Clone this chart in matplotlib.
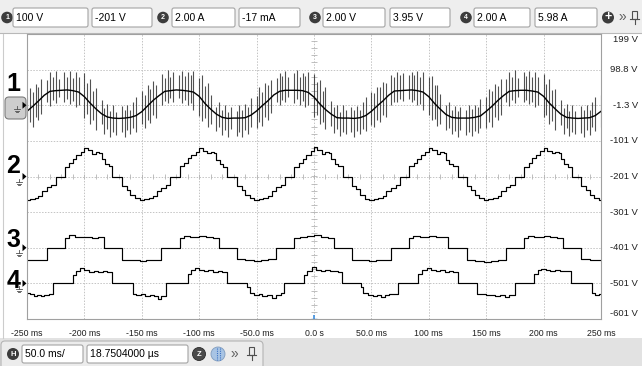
import numpy as np
import matplotlib.pyplot as plt
from matplotlib.patches import FancyBboxPatch, Circle, Polygon, Rectangle

plt.rcParams['font.family'] = ['Liberation Sans', 'DejaVu Sans']

# screen layout in pixels
W, H = 642, 366
PLOT_L, PLOT_R, PLOT_T, PLOT_B = 27, 601, 34, 319
DIV_PX = (PLOT_B - PLOT_T) / 8

# horizontal axis: 50 ms/div, 10 divisions
time_ticks = [-250, -200, -150, -100, -50, 0, 50, 100, 150, 200, 250]
time_labels = ["-250 ms", "-200 ms", "-150 ms", "-100 ms", "-50.0 ms", "0.0 s",
               "50.0 ms", "100 ms", "150 ms", "200 ms", "250 ms"]
volt_labels = ["199 V", "98.8 V", "-1.3 V", "-101 V", "-201 V", "-301 V",
               "-401 V", "-501 V", "-601 V"]

# channel settings: (range box, offset box)
ch_boxes = [("100 V", "-201 V"), ("2.00 A", "-17 mA"), ("2.00 V", "3.95 V"), ("2.00 A", "5.98 A")]
ch_scale = [100.0, 2.0, 2.0, 2.0]     # units per division
ch_zero = [0.0, -2.0, -4.0, -5.0]     # marker position in divisions

# channel 1 (V): centre line on a 5 ms grid
ch1_mid = [
    -17, -3, 12, 28, 39, 41, 42, 43, 41, 37, 24, 6, -10, -24, -33, -36, -37, -36, -34, -29,
    -18, -2, 14, 27, 39, 41, 43, 42, 40, 37, 25, 5, -11, -25, -34, -37, -36, -36, -35, -28,
    -16, -1, 13, 29, 39, 42, 42, 42, 41, 36, 23, 4, -12, -25, -35, -36, -36, -37, -35, -29,
    -17, -2, 12, 28, 40, 41, 42, 43, 41, 37, 24, 5, -11, -26, -34, -36, -36, -36, -34, -30,
    -17, -3, 13, 27, 39, 41, 42, 42, 40, 37, 25, 6, -10, -25, -34, -36, -37, -36, -35, -29,
    -17,
]
# channel 1 (V): switching spikes on a 2.5 ms grid, top and bottom of each spike
ch1_hi = [
    22, 48, 36, 60, 52, 74, None, 70, 92, 78, 96, 74, None, 92, 80, 96, 76, 94, 78, None,
    90, 62, 74, 40, 48, None, 14, -8, 4, -16, 2, -18, None, -2, -14, 0, -12, 10, 24, None,
    40, 30, 56, 46, 68, 58, None, 88, 76, 98, 80, 92, None, 84, 96, 82, 92, 84, 96, None,
    76, 84, 54, 62, 30, None, -4, 10, -14, 0, -18, -4, None, -16, 2, -12, 4, -6, 20, None,
    26, 50, 38, 62, 58, 72, None, 76, 90, 82, 96, 78, None, 90, 98, 80, 90, 82, 94, None,
    88, 64, 72, 40, 50, None, 12, -6, 2, -18, 0, -14, None, -4, -12, -2, -14, 8, 22, None,
    38, 34, 52, 50, 66, 62, None, 86, 80, 94, 84, 90, None, 86, 94, 86, 96, 80, 92, None,
    78, 82, 56, 58, 32, None, 0, 8, -12, -2, -16, -6, None, -14, 0, -10, 2, -4, 18, None,
    24, 46, 40, 60, 54, 74, None, 74, 92, 80, 98, 76, None, 92, 82, 96, 78, 94, 80, None,
    88, 60, 74, 42, 46, None, 14, -8, 4, -16, 2, -16, None, -2, -14, 0, -12, 10, 24, None,
    30,
]
ch1_lo = [
    -66, -46, -60, -32, -42, -24, None, 10, -2, 16, 6, 24, None, 8, 18, 4, 12, -4, 2, None,
    -36, -24, -54, -42, -70, None, -54, -80, -66, -88, -74, -84, None, -76, -90, -70, -82, -64, -74, None,
    -54, -64, -40, -50, -26, -36, None, 0, 12, 6, 20, 10, None, 20, 6, 16, 0, 6, -14, None,
    -30, -44, -36, -60, -52, None, -72, -62, -84, -70, -90, -68, None, -86, -74, -88, -70, -80, -62, None,
    -64, -48, -58, -34, -42, -22, None, 8, 0, 16, 8, 24, None, 6, 18, 2, 12, -6, 0, None,
    -34, -28, -52, -46, -68, None, -58, -78, -68, -86, -76, -82, None, -74, -90, -72, -80, -66, -72, None,
    -56, -62, -42, -48, -28, -34, None, 2, 10, 8, 18, 12, None, 18, 8, 14, 2, 4, -12, None,
    -28, -42, -38, -58, -54, None, -70, -64, -82, -72, -88, -70, None, -84, -76, -86, -72, -78, -64, None,
    -64, -48, -60, -34, -40, -26, None, 8, -2, 14, 6, 22, None, 10, 16, 4, 10, -4, 0, None,
    -34, -26, -52, -44, -70, None, -56, -80, -64, -86, -76, -82, None, -78, -88, -70, -84, -62, -72, None,
    -60,
]

# channel 2 (A): staircase current, level changes (ms, A)
ch2_t = [-250, -247, -243, -240, -237, -233, -229, -225,
         -217, -213, -210, -207, -203, -200, -197, -193, -190, -187, -185, -182, -179, -176,
         -167, -163, -160, -156, -152, -148, -144, -140, -137, -133, -129, -125,
         -117, -113, -110, -107, -103, -100, -97, -93, -90, -87, -85, -82, -79, -76,
         -67, -63, -60, -56, -52, -48, -44, -40, -37, -33, -29, -25,
         -17, -13, -10, -7, -3, 0, 3, 7, 10, 13, 15, 18, 21, 25,
         33, 37, 40, 44, 48, 52, 56, 60, 63, 67, 71, 75,
         83, 87, 90, 93, 97, 100, 103, 107, 110, 113, 115, 118, 121, 125,
         133, 137, 140, 144, 148, 152, 156, 160, 163, 167, 171, 175,
         183, 187, 190, 193, 197, 200, 203, 207, 210, 213, 215, 218, 221, 225,
         233, 237, 240, 244, 248, 250]
ch2_a = [-1.30, -1.24, -1.18, -1.08, -0.80, -0.60, -0.48, 0.0,
         0.56, 0.76, 1.00, 1.20, 1.40, 1.60, 1.46, 1.28, 1.36, 1.30, 0.96, 0.70, 0.58, 0.0,
         -0.52, -0.74, -1.02, -1.22, -1.30, -1.26, -1.20, -1.12, -0.80, -0.62, -0.48, 0.0,
         0.58, 0.74, 1.02, 1.18, 1.40, 1.62, 1.44, 1.30, 1.38, 1.32, 0.94, 0.72, 0.56, 0.0,
         -0.54, -0.76, -1.04, -1.20, -1.34, -1.28, -1.18, -1.10, -0.82, -0.60, -0.46, 0.0,
         0.56, 0.78, 0.98, 1.22, 1.42, 1.64, 1.46, 1.26, 1.36, 1.30, 0.96, 0.70, 0.58, 0.0,
         -0.52, -0.72, -1.04, -1.24, -1.32, -1.28, -1.20, -1.10, -0.80, -0.62, -0.46, 0.0,
         0.58, 0.76, 1.00, 1.20, 1.40, 1.60, 1.46, 1.28, 1.38, 1.30, 0.94, 0.72, 0.58, 0.0,
         -0.54, -0.74, -1.02, -1.22, -1.30, -1.26, -1.18, -1.12, -0.82, -0.60, -0.48, 0.0,
         0.56, 0.76, 1.02, 1.18, 1.42, 1.62, 1.44, 1.30, 1.36, 1.32, 0.96, 0.70, 0.56, 0.0,
         -0.52, -0.74, -1.04, -1.22, -1.30, -1.30]

# channel 3 (V): three-level voltage, level changes (ms, V)
ch3_t = [-250, -244, -238, -233,
         -217, -213, -208, -200, -193, -188, -183,
         -167, -160, -152, -146, -140, -133,
         -117, -113, -108, -100, -94, -88, -83,
         -67, -60, -52, -46, -40, -33,
         -17, -12, -6, 0, 6, 12, 17,
         33, 40, 48, 54, 60, 67,
         83, 86, 92, 100, 106, 112, 117,
         133, 140, 148, 154, 160, 167,
         183, 186, 192, 200, 206, 212, 217,
         233, 240, 246, 250]
ch3_v = [-0.66, -0.70, -0.66, 0.0,
         0.56, 0.72, 0.60, 0.62, 0.56, 0.60, 0.0,
         -0.66, -0.70, -0.76, -0.70, -0.66, 0.0,
         0.56, 0.68, 0.60, 0.64, 0.58, 0.56, 0.0,
         -0.64, -0.70, -0.74, -0.70, -0.64, 0.0,
         0.56, 0.58, 0.66, 0.72, 0.62, 0.56, 0.0,
         -0.66, -0.70, -0.76, -0.70, -0.66, 0.0,
         0.54, 0.68, 0.62, 0.66, 0.60, 0.58, 0.0,
         -0.66, -0.72, -0.78, -0.72, -0.66, 0.0,
         0.56, 0.68, 0.62, 0.68, 0.60, 0.56, 0.0,
         -0.64, -0.70, -0.68, -0.68]

# channel 4 (A): level changes (ms, A)
ch4_t = [-250, -247, -244, -241, -238, -235, -231, -227,
         -210, -207, -204, -200, -196, -192, -188, -184, -180, -176,
         -158, -155, -151, -147, -143, -139, -136, -133, -129,
         -110, -107, -104, -100, -96, -92, -88, -84, -80, -76,
         -58, -56, -52, -48, -45, -41, -37, -33, -29, -26,
         -9, -6, -2, 2, 6, 10, 14, 18, 21, 24,
         41, 43, 47, 51, 55, 58, 62, 65, 69, 73,
         91, 94, 98, 102, 106, 110, 114, 118, 121, 125,
         142, 146, 150, 154, 158, 162, 166, 170, 175,
         192, 195, 198, 202, 206, 210, 214, 218, 224,
         242, 245, 248, 250]
ch4_a = [-0.56, -0.62, -0.70, -0.64, -0.72, -0.64, -0.58, 0.0,
         0.48, 0.72, 0.84, 0.74, 0.66, 0.72, 0.62, 0.70, 0.66, 0.0,
         -0.58, -0.64, -0.60, -0.70, -0.64, -0.72, -0.88, -0.70, 0.0,
         0.50, 0.74, 0.86, 0.74, 0.70, 0.76, 0.64, 0.70, 0.66, 0.0,
         -0.20, -0.56, -0.66, -0.62, -0.72, -0.68, -0.80, -0.66, -0.56, 0.0,
         0.46, 0.72, 0.90, 0.76, 0.70, 0.76, 0.68, 0.72, 0.66, 0.0,
         -0.22, -0.56, -0.64, -0.70, -0.66, -0.76, -0.68, -0.62, -0.58, 0.0,
         0.52, 0.74, 0.84, 0.74, 0.70, 0.76, 0.66, 0.72, 0.66, 0.0,
         -0.58, -0.62, -0.66, -0.64, -0.72, -0.66, -0.76, -0.64, 0.0,
         0.50, 0.74, 0.82, 0.74, 0.72, 0.76, 0.68, 0.70, 0.0,
         -0.56, -0.64, -0.62, -0.62]

fig = plt.figure(figsize=(W / 100, H / 100), dpi=100)
fig.patch.set_facecolor("white")

# full-window layer for the toolbars and markers, in pixel units
ui = fig.add_axes([0, 0, 1, 1], zorder=0)
ui.set_xlim(0, W)
ui.set_ylim(H, 0)
ui.axis("off")

ax = fig.add_axes([PLOT_L / W, 1 - PLOT_B / H, (PLOT_R - PLOT_L) / W, (PLOT_B - PLOT_T) / H],
                  zorder=1)
ax.set_xlim(-250, 250)
ax.set_ylim(-6, 2)
ax.set_xticks(time_ticks)
ax.set_xticklabels(time_labels, fontsize=6.3, color="#202020")
ax.set_yticks(range(-6, 3))
ax.set_yticklabels([])
ax.tick_params(length=0, pad=7)
ax.grid(True, color="#c4c4c4", linestyle=(0, (1.5, 1.5)), linewidth=0.7)
for sp in ax.spines.values():
    sp.set_color("#a0a0a0")
    sp.set_linewidth(0.8)

# minor ticks along the centre cross
ax.vlines(np.arange(-250, 251, 10), -2.07, -1.93, color="#b4b4b4", lw=0.6)
ax.hlines(np.arange(-6, 2.01, 0.2), -2.2, 2.2, color="#b4b4b4", lw=0.6)
# trigger marker
ax.vlines(0, -6, -5.88, color="#3d8fe0", lw=1.2)
ax.hlines(-5.99, -2.5, 2.5, color="#3d8fe0", lw=1.0)

# channel 1
t_spk = np.arange(-250, 250.01, 2.5)
hi = np.array(ch1_hi, dtype=float) / ch_scale[0] + ch_zero[0]
lo = np.array(ch1_lo, dtype=float) / ch_scale[0] + ch_zero[0]
ok = ~np.isnan(hi)
ax.vlines(t_spk[ok], lo[ok], hi[ok], color="#262626", lw=0.8, alpha=0.8)
t_mid = np.arange(-250, 250.01, 5)
ax.plot(t_mid, np.array(ch1_mid) / ch_scale[0] + ch_zero[0], color="black", lw=1.0)

# channels 2-4
for t, v, i in [(ch2_t, ch2_a, 1), (ch3_t, ch3_v, 2), (ch4_t, ch4_a, 3)]:
    ax.plot(t, np.array(v) / ch_scale[i] + ch_zero[i], color="black", lw=0.85,
            drawstyle="steps-post")

# vertical scale labels on the right
for i, lab in enumerate(volt_labels):
    y = PLOT_T + i * DIV_PX
    va = "center"
    if i == 0:
        y, va = y + 0.5, "top"
    elif i == len(volt_labels) - 1:
        y, va = y - 1, "bottom"
    ui.text(638, y, lab, ha="right", va=va, fontsize=6.8, color="#202020")

# top toolbar
ui.add_patch(Rectangle((0, 0), W, 33, fc="#eeeeee", ec="none"))
ui.plot([0, W], [33, 33], color="#b8b8b8", lw=0.8)
badge_x = [7, 163, 315, 466]
box_x = [(13, 88, 92, 152), (172, 235, 239, 300), (323, 385, 390, 450), (474, 530, 535, 597)]
for n, (cx, (a0, a1, b0, b1), (r, o)) in enumerate(zip(badge_x, box_x, ch_boxes)):
    ui.add_patch(Circle((cx, 17.5), 5.8, fc="#3c3c3c", ec="none"))
    ui.text(cx, 17.8, str(n + 1), ha="center", va="center", fontsize=5, color="white",
            fontweight="bold")
    for x0, x1, s in [(a0, a1, r), (b0, b1, o)]:
        ui.add_patch(FancyBboxPatch((x0, 8), x1 - x0, 19, boxstyle="round,pad=0,rounding_size=2",
                                    fc="white", ec="#a4a4a4", lw=0.8))
        ui.text(x0 + 3, 17.8, s, ha="left", va="center", fontsize=7.5, color="black")
ui.add_patch(Circle((608, 17.5), 6, fc="#3c3c3c", ec="none"))
ui.text(608, 17.3, "+", ha="center", va="center", fontsize=9, color="white", fontweight="bold")
ui.text(622, 17.5, "»", ha="center", va="center", fontsize=10, color="#606060")
ui.add_patch(Rectangle((632, 11), 5, 8, fc="none", ec="#505050", lw=0.8))
ui.plot([634.5, 634.5], [19, 24], color="#505050", lw=0.8)
ui.plot([630, 639], [19, 19], color="#505050", lw=0.8)

# bottom toolbar
ui.add_patch(Rectangle((0, 338), W, H - 338, fc="#e2e2e2", ec="none"))
ui.add_patch(FancyBboxPatch((1, 341), 262, 30, boxstyle="round,pad=0,rounding_size=4",
                            fc="#ececec", ec="#b4b4b4", lw=0.8))
ui.add_patch(Circle((13, 354), 6, fc="#3c3c3c", ec="none"))
ui.text(13, 354.3, "H", ha="center", va="center", fontsize=5.5, color="white", fontweight="bold")
for x0, x1, s in [(22, 83, "50.0 ms/"), (87, 188, "18.7504000 µs")]:
    ui.add_patch(FancyBboxPatch((x0, 345), x1 - x0, 18, boxstyle="round,pad=0,rounding_size=2",
                                fc="white", ec="#a4a4a4", lw=0.8))
    ui.text(x0 + 3, 354.3, s, ha="left", va="center", fontsize=7.5, color="black")
ui.add_patch(Circle((199, 354), 6.5, fc="#4a4a4a", ec="#2a2a2a", lw=0.6))
ui.text(199, 354.3, "Z", ha="center", va="center", fontsize=5.5, color="white", fontweight="bold")
ui.add_patch(Circle((218, 354), 7, fc="#a8c4e4", ec="#7f9bbd", lw=0.6))
for dx in (-1.5, 1.5):
    ui.plot([218 + dx, 218 + dx], [348, 360], color="#3d73c4", lw=0.8, linestyle=(0, (1, 1)))
ui.text(234, 354, "»", ha="center", va="center", fontsize=10, color="#606060")
ui.add_patch(Rectangle((249, 347), 5, 8, fc="none", ec="#505050", lw=0.8))
ui.plot([251.5, 251.5], [355, 360], color="#505050", lw=0.8)
ui.plot([247, 256], [355, 355], color="#505050", lw=0.8)

# window edge on the left
ui.plot([3, 3], [34, 338], color="#cccccc", lw=0.8)


def ground(x, y):
    ui.plot([x, x], [y, y + 3], color="#505050", lw=0.6)
    for k, w in enumerate([3.2, 2.2, 1.2]):
        ui.plot([x - w, x + w], [y + 3 + k * 1.7] * 2, color="#505050", lw=0.6)


# channel markers on the left
ui.add_patch(FancyBboxPatch((5, 97), 21, 22, boxstyle="round,pad=0,rounding_size=4",
                            fc="#cdcdcd", ec="#7c7c7c", lw=0.8))
digit_y = [84, 166, 240, 281]
ground_xy = [(17, 106), (19, 179), (19, 250), (19, 286)]
for i in range(4):
    y0 = PLOT_T + (2 - ch_zero[i]) * DIV_PX
    ui.text(13.5, digit_y[i], str(i + 1), ha="center", va="center", fontsize=18,
            fontweight="bold", color="black")
    ui.add_patch(Polygon([(22.5, y0 - 3.5), (22.5, y0 + 3.5), (26.5, y0)], closed=True,
                         fc="black", ec="none"))
    ground(*ground_xy[i])

fig.savefig("out.png", dpi=100)
